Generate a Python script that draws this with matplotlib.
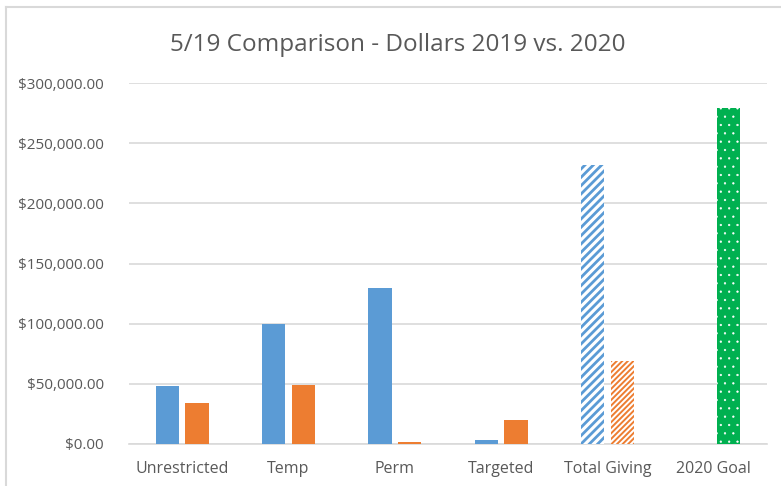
import matplotlib
matplotlib.use("Agg")
import matplotlib.pyplot as plt
import numpy as np
from matplotlib.ticker import FuncFormatter
from matplotlib.lines import Line2D

plt.rcParams['font.family'] = ['Open Sans', 'DejaVu Sans']

# data
categories = ["Unrestricted", "Temp", "Perm", "Targeted", "Total Giving", "2020 Goal"]
dollars_2019 = [48200, 100000, 130000, 3300, 232000, 0]
dollars_2020 = [34300, 49000, 1500, 20000, 69000, 279000]
yticks = [0, 50000, 100000, 150000, 200000, 250000, 300000]

blue = "#5B9BD5"
orange = "#ED7D31"
green = "#00B050"
grey_text = "#595959"
grid_col = "#D9D9D9"

fig = plt.figure(figsize=(7.81, 4.86), dpi=100)
W, H = 781, 486
ax = fig.add_axes([129 / W, 1 - 444 / H, (767 - 129) / W, (444 - 83) / H])

x = np.arange(len(categories))
w = 0.22
off = 0.14

b1 = ax.bar(x - off, dollars_2019, w, color=blue, linewidth=0, zorder=3)
b2 = ax.bar(x + off, dollars_2020, w, color=orange, linewidth=0, zorder=3)

# Total Giving bars are hatched on white
tg = categories.index("Total Giving")
p = b1[tg]
p.set_facecolor("white")
p.set_edgecolor(blue)
p.set_hatch("////")
p.set_hatch_linewidth(2.0)
p = b2[tg]
p.set_facecolor("white")
p.set_edgecolor(orange)
p.set_hatch("//////")
p.set_hatch_linewidth(1.4)

# goal bar is green with white dots
gl = categories.index("2020 Goal")
p = b2[gl]
p.set_facecolor(green)
p.set_edgecolor("white")
p.set_hatch("..")
p.set_hatch_linewidth(0.4)

ax.set_xlim(-0.5, len(categories) - 0.5)
ax.set_ylim(0, 300000)
ax.set_yticks(yticks)
ax.yaxis.set_major_formatter(FuncFormatter(lambda v, pos: "${:,.2f}".format(v)))
ax.set_xticks(x)
ax.set_xticklabels(categories)
ax.tick_params(axis="y", length=0, pad=18, labelsize=11, labelcolor=grey_text)
ax.tick_params(axis="x", length=0, pad=12, labelsize=11.5, labelcolor=grey_text)
ax.grid(axis="y", color=grid_col, linewidth=1.2, zorder=0)
ax.set_axisbelow(True)
for s in ["top", "right", "left"]:
    ax.spines[s].set_visible(False)
ax.spines["bottom"].set_color(grid_col)
ax.spines["bottom"].set_linewidth(1.2)

fig.text(398 / W, 1 - 45 / H, "5/19 Comparison - Dollars 2019 vs. 2020",
         ha="center", va="center", fontsize=17.5, color=grey_text)

# chart frame lines from the screenshot
fig.add_artist(Line2D([6 / W, 1], [1 - 7 / H, 1 - 7 / H], color="#D9D9D9", linewidth=1.5))
fig.add_artist(Line2D([6 / W, 6 / W], [0, 1 - 7 / H], color="#D9D9D9", linewidth=1.5))

fig.savefig("out.png", dpi=100)
